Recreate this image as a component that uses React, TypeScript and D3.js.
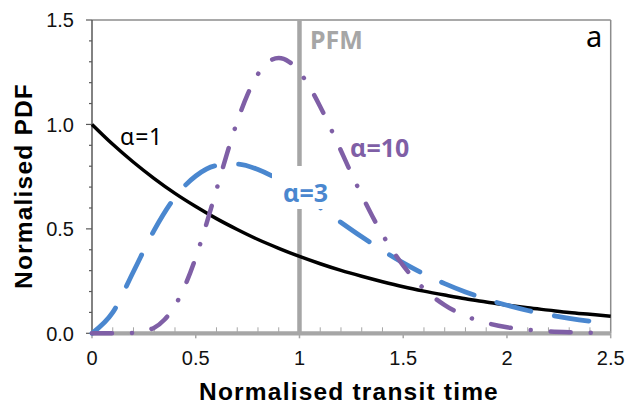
import React from "react";
import * as d3 from "d3";

const tValues = [0, 0.1, 0.2, 0.3, 0.4, 0.5, 0.6, 0.7, 0.8, 0.9, 1.0, 1.1, 1.2, 1.3, 1.4, 1.5, 1.6, 1.7, 1.8, 1.9, 2.0, 2.1, 2.2, 2.3, 2.4, 2.5];
const alpha1 = [1.0, 0.905, 0.819, 0.741, 0.67, 0.607, 0.549, 0.497, 0.449, 0.407, 0.368, 0.333, 0.301, 0.273, 0.247, 0.223, 0.202, 0.183, 0.165, 0.15, 0.135, 0.122, 0.111, 0.1, 0.091, 0.082];
const alpha3 = [0, 0.1, 0.296, 0.494, 0.651, 0.753, 0.803, 0.81, 0.784, 0.735, 0.672, 0.602, 0.531, 0.462, 0.397, 0.337, 0.284, 0.238, 0.198, 0.163, 0.134, 0.109, 0.089, 0.072, 0.058, 0.047];
const t10 = [0, 0.1, 0.2, 0.3, 0.35, 0.4, 0.45, 0.5, 0.55, 0.6, 0.65, 0.7, 0.75, 0.8, 0.85, 0.9, 0.95, 1.0, 1.05, 1.1, 1.15, 1.2, 1.25, 1.3, 1.35, 1.4, 1.45, 1.5, 1.6, 1.7, 1.8, 1.9, 2.0, 2.1, 2.2, 2.3, 2.4, 2.5];
const alpha10 = [0, 0, 0.002, 0.027, 0.066, 0.132, 0.232, 0.363, 0.519, 0.688, 0.858, 1.014, 1.144, 1.241, 1.299, 1.318, 1.3, 1.251, 1.177, 1.085, 0.982, 0.874, 0.765, 0.661, 0.563, 0.473, 0.394, 0.324, 0.213, 0.135, 0.083, 0.05, 0.029, 0.017, 0.009, 0.005, 0.003, 0.0015];

const xTicks = [0, 0.5, 1, 1.5, 2, 2.5];
const xTickLabels = ["0", "0.5", "1", "1.5", "2", "2.5"];
const yTicks = [0, 0.5, 1.0, 1.5];
const yTickLabels = ["0.0", "0.5", "1.0", "1.5"];

const W = 629;
const H = 408;
const L = 92;
const T = 20;
const R = 610.7;
const B = 333.3;

export default function App() {
  const x = d3.scaleLinear().domain([0, 2.5]).range([L, R]);
  const y = d3.scaleLinear().domain([0, 1.5]).range([B, T]);
  const line = d3
    .line<[number, number]>()
    .x((d) => x(d[0]))
    .y((d) => y(d[1]))
    .curve(d3.curveMonotoneX);
  const p1 = line(tValues.map((t, i) => [t, alpha1[i]]) as [number, number][]) || "";
  const p3 = line(tValues.map((t, i) => [t, alpha3[i]]) as [number, number][]) || "";
  const p10 = line(t10.map((t, i) => [t, alpha10[i]]) as [number, number][]) || "";

  const minorX = d3.range(1, 25).map((i) => i / 10).filter((v) => Math.abs(v * 2 - Math.round(v * 2)) > 1e-6);
  const minorY = d3.range(1, 15).map((i) => i / 10).filter((v) => Math.abs(v * 2 - Math.round(v * 2)) > 1e-6);

  const tickFont = "'Liberation Sans', Arial, sans-serif";
  const labelFont = "'Noto Sans', 'Open Sans', sans-serif";

  return (
    <svg width={W} height={H} style={{ position: "absolute", left: 0, top: 0, background: "#fff" }}>
      <rect x={0} y={0} width={W} height={H} fill="#fff" />
      {/* frame */}
      <line x1={L} y1={T} x2={R} y2={T} stroke="#8c8c8c" strokeWidth={1.5} />
      <line x1={R} y1={T} x2={R} y2={B} stroke="#8c8c8c" strokeWidth={1.5} />
      {/* PFM line */}
      <line x1={x(1)} y1={T} x2={x(1)} y2={B} stroke="#a6a6a6" strokeWidth={4.5} />
      {/* x minor ticks */}
      {minorX.map((v) => (
        <line key={"mx" + v} x1={x(v)} x2={x(v)} y1={B - 6} y2={B} stroke="#a6a6a6" strokeWidth={1} />
      ))}
      {/* x major ticks */}
      {xTicks.map((v) => (
        <line key={"Mx" + v} x1={x(v)} x2={x(v)} y1={B} y2={B + 5} stroke="#a6a6a6" strokeWidth={1.5} />
      ))}
      {/* bottom axis line */}
      <line x1={L} y1={B} x2={R} y2={B} stroke="#a6a6a6" strokeWidth={4.3} />
      {/* y axis */}
      <line x1={L} y1={T} x2={L} y2={B} stroke="#595959" strokeWidth={1.5} />
      {yTicks.map((v) => (
        <line key={"My" + v} x1={L - 6} x2={L} y1={y(v)} y2={y(v)} stroke="#595959" strokeWidth={1.2} />
      ))}
      {minorY.map((v) => (
        <line key={"my" + v} x1={L - 3} x2={L} y1={y(v)} y2={y(v)} stroke="#595959" strokeWidth={1.2} />
      ))}
      {/* curves */}
      <path d={p1} fill="none" stroke="#000" strokeWidth={3.5} />
      <path d={p3} fill="none" stroke="#4a87cf" strokeWidth={4.8} strokeDasharray="35 24" strokeLinecap="round" />
      <path d={p10} fill="none" stroke="#7f5fa6" strokeWidth={4.5} strokeDasharray="20 20 0.1 20" strokeLinecap="round" />
      {/* tick labels */}
      {yTicks.map((v, i) => (
        <text key={"yl" + v} x={74} y={y(v)} dy="0.36em" textAnchor="end" fontFamily={tickFont} fontSize={20} fill="#111">
          {yTickLabels[i]}
        </text>
      ))}
      {xTicks.map((v, i) => (
        <text key={"xl" + v} x={x(v)} y={365} textAnchor="middle" fontFamily={tickFont} fontSize={20} fill="#111">
          {xTickLabels[i]}
        </text>
      ))}
      {/* axis titles */}
      <text x={349} y={400} textAnchor="middle" fontFamily={tickFont} fontWeight="bold" fontSize={24.5} letterSpacing={1.2} fill="#000">
        Normalised transit time
      </text>
      <text transform="translate(32,186) rotate(-90)" textAnchor="middle" fontFamily={tickFont} fontWeight="bold" fontSize={24.5} letterSpacing={1.2} fill="#000">
        Normalised PDF
      </text>
      {/* series labels */}
      <text x={120} y={145} fontFamily={labelFont} fontSize={23} letterSpacing={0.8} fill="#000">
        α=1
      </text>
      <rect x={272} y={166} width={66} height={43} fill="#fff" />
      <text x={283} y={202} fontFamily={labelFont} fontWeight="bold" fontSize={25} fill="#4a87cf">
        α=3
      </text>
      <text x={350} y={157} fontFamily={labelFont} fontWeight="bold" fontSize={25} fill="#7f5fa6">
        α=10
      </text>
      <text x={310} y={49} fontFamily={labelFont} fontWeight="bold" fontSize={25} fill="#a6a6a6">
        PFM
      </text>
      <text x={586} y={47} fontFamily={labelFont} fontSize={29} fill="#000">
        a
      </text>
    </svg>
  );
}
